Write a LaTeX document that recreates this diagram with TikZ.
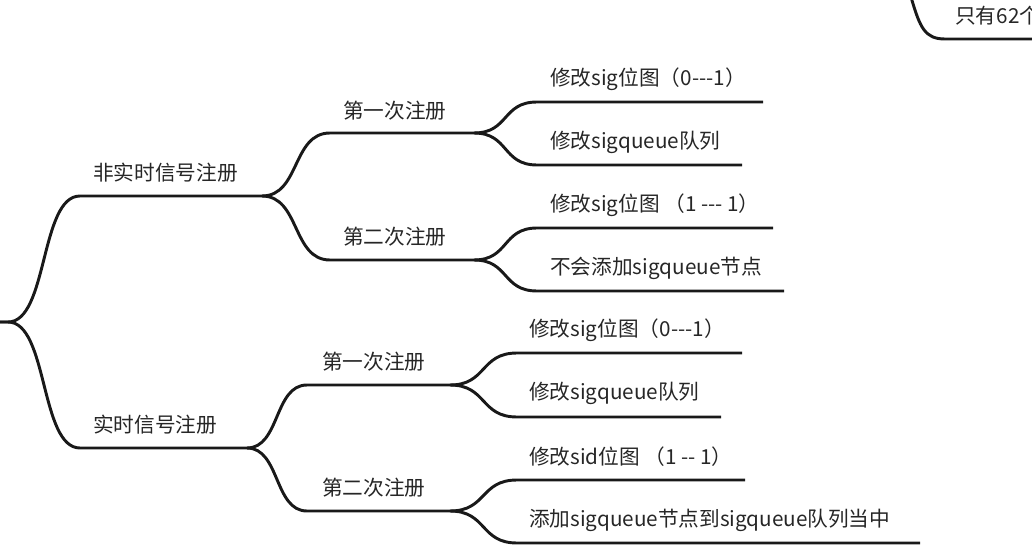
\documentclass[tikz,border=0pt]{standalone}
\usepackage{fontspec}
\newfontfamily\cjk{Noto Sans CJK SC}
\usepackage{tikz}
\usetikzlibrary{calc}

\begin{document}
\begin{tikzpicture}[x=0.75pt,y=-0.75pt,
  limb/.style={line width=2.2pt,line join=round,color=black!90},
  lbl/.style={anchor=west,inner sep=0pt,font=\cjk\fontsize{15.5}{18}\selectfont,text=black!85}]
\useasboundingbox (0,0) rectangle (1032,560);
\clip (0,0) rectangle (1032,560);

% top right, cut off
\coordinate (box-a) at (911,-3);
\coordinate (box-b) at (945,39);
\coordinate (box-c) at (1040,39);
\draw[limb] (box-a) .. controls (920,28) and (925,39) .. (box-b) -- (box-c);
\node[lbl] (note) at (955,16) {只有62个};

% root and main branches
\coordinate (root) at (0,322);
\coordinate (fei-s) at (80,196);
\coordinate (fei-e) at (262,196);
\coordinate (shi-s) at (80,448);
\coordinate (shi-e) at (247,448);
\node[lbl] (fei) at (93,173) {非实时信号注册};
\node[lbl] (shi) at (93,425) {实时信号注册};

\draw[limb] (root) -- ++(8,0) .. controls +(40,0) and +(-40,0) .. (fei-s) -- (fei-e);
\draw[limb] (root) -- ++(8,0) .. controls +(40,0) and +(-40,0) .. (shi-s) -- (shi-e);

% non realtime
\coordinate (fa-s) at (330,133);
\coordinate (fa-e) at (474,133);
\coordinate (fb-s) at (330,260);
\coordinate (fb-e) at (474,260);
\node[lbl] (fa) at (343,111) {第一次注册};
\node[lbl] (fb) at (343,237) {第二次注册};
\draw[limb] (fei-e) .. controls +(38,0) and +(-38,0) .. (fa-s) -- (fa-e);
\draw[limb] (fei-e) .. controls +(38,0) and +(-38,0) .. (fb-s) -- (fb-e);

\coordinate (fa1-s) at (537,102);
\coordinate (fa1-e) at (763,102);
\coordinate (fa2-s) at (537,165);
\coordinate (fa2-e) at (742,165);
\coordinate (fb1-s) at (537,228);
\coordinate (fb1-e) at (773,228);
\coordinate (fb2-s) at (537,291);
\coordinate (fb2-e) at (784,291);
\node[lbl] (fa1) at (550,79) {修改sig位图（0---1）};
\node[lbl] (fa2) at (550,142) {修改sigqueue队列};
\node[lbl] (fb1) at (550,205) {修改sig位图 （1 --- 1）};
\node[lbl] (fb2) at (550,268) {不会添加sigqueue节点};
\draw[limb] (fa-e) .. controls +(35,0) and +(-35,0) .. (fa1-s) -- (fa1-e);
\draw[limb] (fa-e) .. controls +(35,0) and +(-35,0) .. (fa2-s) -- (fa2-e);
\draw[limb] (fb-e) .. controls +(35,0) and +(-35,0) .. (fb1-s) -- (fb1-e);
\draw[limb] (fb-e) .. controls +(35,0) and +(-35,0) .. (fb2-s) -- (fb2-e);

% realtime
\coordinate (sa-s) at (307,385);
\coordinate (sa-e) at (450,385);
\coordinate (sb-s) at (307,511);
\coordinate (sb-e) at (450,511);
\node[lbl] (sa) at (322,362) {第一次注册};
\node[lbl] (sb) at (322,488) {第二次注册};
\draw[limb] (shi-e) .. controls +(33,0) and +(-33,0) .. (sa-s) -- (sa-e);
\draw[limb] (shi-e) .. controls +(33,0) and +(-33,0) .. (sb-s) -- (sb-e);

\coordinate (sa1-s) at (517,353);
\coordinate (sa1-e) at (742,353);
\coordinate (sa2-s) at (517,417);
\coordinate (sa2-e) at (721,417);
\coordinate (sb1-s) at (517,480);
\coordinate (sb1-e) at (745,480);
\coordinate (sb2-s) at (517,543);
\coordinate (sb2-e) at (920,543);
\node[lbl] (sa1) at (529,330) {修改sig位图（0---1）};
\node[lbl] (sa2) at (529,393) {修改sigqueue队列};
\node[lbl] (sb1) at (529,457) {修改sid位图 （1 -- 1）};
\node[lbl] (sb2) at (529,520) {添加sigqueue节点到sigqueue队列当中};
\draw[limb] (sa-e) .. controls +(37,0) and +(-37,0) .. (sa1-s) -- (sa1-e);
\draw[limb] (sa-e) .. controls +(37,0) and +(-37,0) .. (sa2-s) -- (sa2-e);
\draw[limb] (sb-e) .. controls +(37,0) and +(-37,0) .. (sb1-s) -- (sb1-e);
\draw[limb] (sb-e) .. controls +(37,0) and +(-37,0) .. (sb2-s) -- (sb2-e);

\end{tikzpicture}
\end{document}
